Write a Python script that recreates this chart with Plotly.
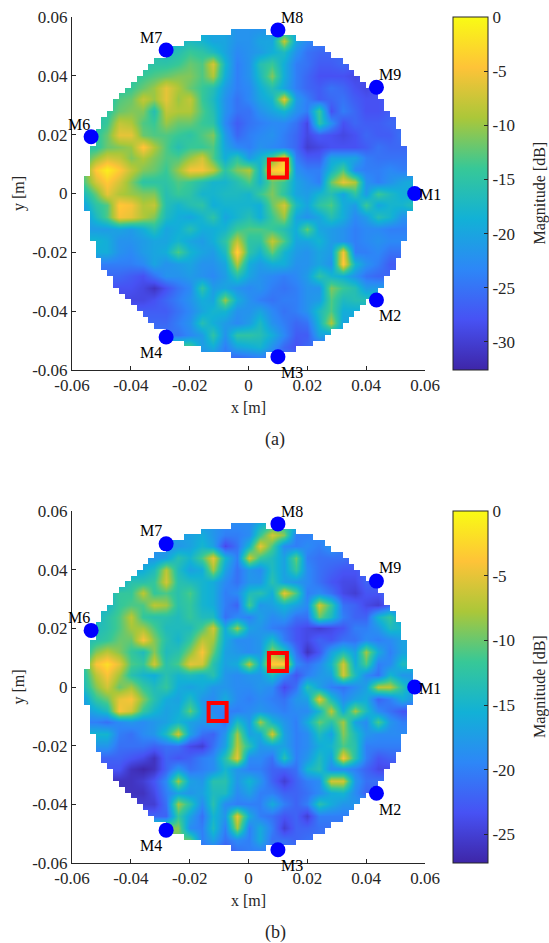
import plotly.graph_objects as go
import numpy as np

x_grid = [round(-0.056 + 0.004 * i, 3) for i in range(29)]
y_grid = [round(0.056 - 0.004 * j, 3) for j in range(29)]

start_a = [11,8,6,5,4,3,2,2,1,1,0,0,0,0,0,0,0,1,1,2,3,3,4,5,7,7,8,9,11]
rows_a = [
[-20,-20,-22,-22,-22,-21,-19],
[-18,-17,-18,-20,-20,-22,-22,-20,-20,-8,-20,-23,-24],
[-16,-17,-16,-14,-15,-17,-20,-23,-22,-21,-19,-17,-22,-25,-26,-26,-26],
[-16,-15,-15,-14,-12,-13,-7,-18,-24,-22,-16,-14,-19,-24,-25,-27,-27,-26,-27],
[-15,-14,-13,-12,-11,-11,-13,-9,-19,-24,-22,-17,-11,-19,-24,-26,-28,-28,-28,-29,-28],
[-15,-14,-12,-10,-6,-9,-12,-14,-16,-21,-24,-23,-19,-16,-20,-24,-26,-27,-25,-26,-28,-29,-28],
[-16,-13,-12,-8,-10,-6,-10,-8,-14,-17,-22,-25,-23,-20,-18,-6,-21,-24,-27,-26,-25,-27,-28,-28,-27],
[-15,-12,-11,-11,-16,-8,-9,-9,-13,-16,-22,-25,-25,-22,-20,-18,-22,-24,-14,-28,-24,-26,-28,-28,-27],
[-16,-14,-8,-9,-13,-14,-10,-12,-12,-14,-15,-23,-27,-25,-24,-23,-23,-25,-29,-15,-22,-28,-26,-27,-27,-26,-26],
[-15,-12,-6,-6,-12,-13,-13,-14,-15,-13,-11,-21,-26,-24,-23,-22,-24,-26,-29,-27,-28,-29,-28,-26,-27,-27,-25],
[-15,-15,-12,-11,-10,-4,-9,-13,-16,-14,-14,-13,-20,-23,-24,-22,-23,-24,-26,-30,-29,-28,-28,-28,-27,-25,-26,-26],
[-14,-10,-7,-8,-11,-9,-11,-13,-13,-10,-7,-13,-19,-15,-21,-18,-13,-4,-24,-27,-27,-20,-20,-20,-24,-25,-25,-25],
[-12,-4,-1,-4,-8,-11,-12,-14,-10,-5,-5,-8,-15,-11,-9,-18,-4,-2,-22,-24,-24,-18,-13,-23,-24,-24,-23,-24],
[-13,-7,-4,-7,-11,-15,-15,-15,-13,-14,-16,-18,-18,-16,-13,-18,-12,-14,-20,-22,-24,-12,-6,-9,-22,-24,-22,-20,-19],
[-17,-12,-6,-9,-10,-11,-11,-16,-14,-15,-18,-18,-17,-17,-18,-14,-11,-15,-20,-21,-18,-16,-20,-15,-21,-14,-17,-19,-20],
[-20,-15,-13,-4,-5,-9,-8,-16,-18,-16,-15,-19,-18,-18,-18,-19,-12,-7,-17,-20,-15,-13,-19,-21,-14,-20,-18,-18,-16],
[-22,-17,-13,-5,-6,-9,-11,-17,-19,-20,-18,-15,-20,-18,-16,-19,-14,-10,-20,-22,-20,-16,-19,-23,-21,-16,-18,-22],
[-21,-21,-20,-21,-19,-16,-20,-19,-16,-19,-19,-18,-14,-13,-13,-14,-16,-19,-12,-20,-21,-22,-24,-23,-23,-24],
[-18,-19,-22,-22,-21,-20,-20,-18,-20,-21,-19,-15,-8,-15,-15,-8,-13,-20,-20,-18,-21,-22,-24,-23,-22,-23],
[-19,-22,-23,-21,-20,-19,-13,-18,-20,-21,-17,-3,-15,-18,-12,-18,-21,-22,-20,-21,-5,-24,-24,-23,-25],
[-24,-24,-23,-20,-22,-21,-20,-22,-22,-20,-9,-19,-21,-19,-19,-22,-22,-20,-22,-4,-18,-22,-24,-27],
[-26,-27,-28,-25,-22,-22,-21,-22,-23,-21,-16,-20,-22,-23,-24,-23,-21,-15,-18,-19,-22,-25,-26],
[-28,-29,-31,-28,-25,-23,-15,-21,-20,-22,-23,-22,-24,-25,-24,-22,-22,-11,-14,-16,-21],
[-29,-28,-26,-24,-22,-19,-20,-10,-19,-22,-24,-25,-24,-24,-22,-21,-13,-17,-16],
[-27,-25,-23,-20,-18,-18,-22,-22,-20,-23,-25,-24,-22,-17,-13,-19],
[-26,-24,-22,-16,-19,-21,-23,-21,-17,-22,-24,-26,-25,-18,-9,-20],
[-25,-23,-21,-15,-22,-15,-15,-16,-19,-23,-27,-27,-20,-21],
[-13,-21,-19,-24,-20,-19,-18,-22,-26,-28,-26],
[-23,-25,-26,-25,-24,-25,-25],
]

start_b = [11,8,7,5,4,3,2,2,1,1,0,0,0,0,0,0,0,1,1,2,3,3,4,5,6,7,8,9,11]
rows_b = [
[-18,-19,-19,-19,-16,-14,-14],
[-17,-17,-16,-18,-20,-20,-19,-12,-6,-9,-20,-20,-19],
[-19,-18,-17,-15,-17,-24,-21,-15,-5,-11,-19,-20,-19,-20,-18,-20],
[-18,-18,-17,-13,-15,-11,-5,-15,-20,-6,-12,-14,-17,-10,-20,-21,-21,-21,-22],
[-17,-16,-14,-7,-14,-17,-16,-8,-17,-21,-18,-19,-14,-17,-12,-19,-21,-22,-23,-23,-22],
[-16,-13,-13,-12,-6,-13,-14,-15,-16,-19,-21,-18,-18,-13,-17,-18,-19,-21,-23,-24,-24,-22,-22],
[-15,-12,-12,-7,-12,-11,-13,-11,-15,-16,-20,-19,-14,-13,-16,-5,-11,-20,-19,-21,-24,-25,-23,-23,-21],
[-15,-12,-11,-11,-7,-8,-13,-12,-15,-16,-20,-22,-11,-18,-17,-15,-17,-19,-6,-12,-21,-22,-24,-25,-22],
[-15,-13,-11,-7,-12,-13,-13,-14,-12,-14,-14,-21,-19,-20,-17,-19,-18,-21,-21,-10,-14,-20,-22,-22,-15,-12,-18],
[-14,-13,-11,-8,-8,-11,-14,-14,-14,-11,-6,-16,-8,-17,-18,-20,-21,-23,-24,-25,-24,-23,-20,-20,-18,-14,-15],
[-14,-13,-12,-10,-10,-4,-9,-13,-15,-12,-7,-8,-16,-19,-19,-18,-14,-20,-23,-24,-22,-23,-21,-21,-19,-20,-19,-17],
[-14,-9,-7,-9,-12,-14,-9,-14,-13,-9,-4,-10,-17,-18,-19,-18,-8,-13,-21,-26,-23,-17,-14,-17,-8,-16,-20,-17],
[-12,-4,-2,-5,-11,-12,-6,-13,-11,-5,-6,-13,-17,-16,-7,-16,-3,-3,-19,-21,-19,-15,-6,-16,-11,-20,-19,-14],
[-13,-7,-4,-8,-13,-15,-16,-13,-15,-14,-15,-13,-18,-19,-18,-18,-14,-19,-23,-20,-18,-17,-6,-14,-19,-21,-15,-18],
[-14,-9,-6,-10,-8,-12,-14,-12,-16,-17,-16,-18,-18,-19,-19,-18,-19,-24,-21,-13,-17,-20,-21,-19,-17,-7,-7,-13,-18],
[-17,-12,-10,-5,-4,-9,-13,-16,-17,-14,-18,-19,-16,-19,-20,-19,-20,-21,-18,-17,-5,-14,-19,-17,-16,-22,-20,-16,-18],
[-18,-16,-14,-4,-6,-12,-15,-17,-16,-10,-17,-19,-20,-20,-19,-18,-19,-20,-19,-19,-15,-7,-16,-8,-14,-19,-21,-23],
[-20,-21,-19,-18,-19,-18,-17,-15,-17,-18,-17,-21,-14,-18,-8,-15,-18,-20,-16,-10,-13,-8,-17,-19,-11,-18,-20],
[-15,-15,-20,-21,-19,-18,-14,-6,-17,-21,-22,-18,-8,-17,-16,-6,-17,-20,-19,-14,-17,-9,-14,-18,-19,-19],
[-18,-21,-21,-21,-22,-21,-21,-24,-25,-21,-17,-7,-13,-18,-17,-17,-20,-19,-16,-15,-11,-13,-20,-20,-20],
[-22,-23,-24,-26,-22,-23,-22,-20,-19,-13,-5,-19,-19,-21,-13,-20,-18,-14,-17,-4,-13,-20,-23,-22],
[-23,-26,-27,-26,-22,-18,-21,-20,-19,-15,-18,-20,-20,-22,-22,-21,-15,-13,-19,-19,-20,-22,-24],
[-26,-25,-23,-19,-8,-17,-18,-13,-13,-18,-15,-18,-22,-25,-22,-20,-19,-6,-6,-18,-21],
[-26,-24,-20,-17,-18,-17,-14,-14,-19,-17,-20,-20,-22,-22,-21,-19,-16,-15,-19,-22],
[-25,-21,-8,-13,-19,-13,-19,-20,-20,-20,-16,-20,-22,-20,-13,-16,-18],
[-22,-12,-17,-21,-15,-18,-5,-16,-20,-21,-23,-22,-25,-20,-20],
[-9,-19,-20,-14,-20,-8,-20,-16,-20,-25,-22,-22,-21],
[-10,-20,-17,-21,-19,-20,-16,-21,-21,-22,-21],
[-21,-23,-21,-20,-20,-20,-21],
]

mic_names = ["M1", "M2", "M3", "M4", "M6", "M7", "M8", "M9"]
mic_x = [0.0565, 0.0435, 0.0100, -0.0280, -0.0535, -0.0280, 0.0100, 0.0435]
mic_y = [0.0000, -0.0362, -0.0555, -0.0488, 0.0193, 0.0488, 0.0556, 0.0361]
label_x = [0.0617, 0.0481, 0.0148, -0.0331, -0.0576, -0.0331, 0.0148, 0.0481]
label_y = [-0.0005, -0.0416, -0.0607, -0.0542, 0.0236, 0.0532, 0.0600, 0.0406]

src_a_x = [0.0100]
src_a_y = [0.0085]
src_b_x = [0.0100, -0.0105]
src_b_y = [0.0085, -0.0085]

zmin_a, zmin_b = -32.6, -27.2
ticks_a = [0, -5, -10, -15, -20, -25, -30]
ticks_b = [0, -5, -10, -15, -20, -25]
xy_ticks = [-0.06, -0.04, -0.02, 0, 0.02, 0.04, 0.06]
xy_text = ["-0.06", "-0.04", "-0.02", "0", "0.02", "0.04", "0.06"]

parula = [[0, "#3e26a8"], [1/7, "#4752f4"], [2/7, "#2d87f7"], [3/7, "#12b1d6"],
          [4/7, "#37c897"], [5/7, "#abc739"], [6/7, "#fec338"], [1, "#f9fb14"]]

W, H = 549, 943
LEFT, RIGHT = 72, 425
SERIF = "Liberation Serif"
INK = "#262626"


def full(rows, starts):
    out = []
    for r, s in zip(rows, starts):
        out.append([r[0]] * s + r + [r[-1]] * (29 - s - len(r)))
    return out


# white surround that gives the disc its stepped edge
cell = np.arange(-0.059, 0.0591, 0.002)
cx, cy = np.meshgrid(cell, cell)
outside = (np.abs(cx) + 0.001) ** 2 + (np.abs(cy) + 0.001) ** 2 > 0.0565 ** 2
mask = np.where(outside, 1.0, np.nan)

fig = go.Figure()
centered = dict(xref="paper", yref="paper", showarrow=False, xanchor="center", yanchor="middle")
notes = [
    dict(centered, text="(a)", x=275 / W, y=(H - 439) / H, font=dict(family=SERIF, size=18, color=INK)),
    dict(centered, text="(b)", x=275 / W, y=(H - 932) / H, font=dict(family=SERIF, size=18, color=INK)),
]


def panel(z, zmin, ticks, top, bottom, xa, ya, src_x, src_y):
    xref = "x" if xa == 1 else f"x{xa}"
    yref = "y" if ya == 1 else f"y{ya}"
    fig.add_trace(go.Heatmap(
        x=x_grid, y=y_grid, z=z, zmin=zmin, zmax=0, zsmooth="best", colorscale=parula,
        xaxis=xref, yaxis=yref, hoverinfo="skip",
        colorbar=dict(
            x=453 / W, xanchor="left", thickness=35, thicknessmode="pixels",
            y=(H - bottom) / H, yanchor="bottom", len=(bottom - top) / H, lenmode="fraction",
            xpad=0, ypad=0, outlinecolor=INK, outlinewidth=1,
            tickmode="array", tickvals=ticks, ticktext=[str(t) for t in ticks],
            ticks="inside", ticklen=4, tickcolor=INK,
            tickfont=dict(family=SERIF, size=17, color=INK),
        ),
    ))
    fig.add_trace(go.Heatmap(
        x=cell, y=cell, z=mask, zmin=0, zmax=1, showscale=False, hoverinfo="skip",
        colorscale=[[0, "white"], [1, "white"]], xaxis=xref, yaxis=yref,
    ))
    fig.add_trace(go.Scatter(
        x=mic_x, y=mic_y, mode="markers", xaxis=xref, yaxis=yref, cliponaxis=False,
        marker=dict(size=15, color="#0000ff"), showlegend=False, hoverinfo="skip",
    ))
    fig.add_trace(go.Scatter(
        x=src_x, y=src_y, mode="markers", xaxis=xref, yaxis=yref, showlegend=False, hoverinfo="skip",
        marker=dict(symbol="square-open", size=18, color="#ff0000", line=dict(width=4, color="#ff0000")),
    ))
    for name, lx, ly in zip(mic_names, label_x, label_y):
        px = LEFT + (lx + 0.06) / 0.12 * (RIGHT - LEFT)
        py = bottom - (ly + 0.06) / 0.12 * (bottom - top)
        notes.append(dict(centered, text=name, x=px / W, y=(H - py) / H,
                          font=dict(family=SERIF, size=16, color="black")))
    notes.append(dict(centered, text="Magnitude [dB]", x=540 / W, y=(H - (top + bottom) / 2) / H,
                      textangle=-90, font=dict(family=SERIF, size=16, color=INK)))
    axis = dict(
        range=[-0.06, 0.06], tickmode="array", tickvals=xy_ticks, ticktext=xy_text,
        ticks="inside", ticklen=4, tickcolor=INK, showgrid=False, zeroline=False,
        showline=True, linecolor=INK, linewidth=1, layer="above traces",
        tickfont=dict(family=SERIF, size=17, color=INK),
    )
    xname = "xaxis" if xa == 1 else f"xaxis{xa}"
    yname = "yaxis" if ya == 1 else f"yaxis{ya}"
    fig.update_layout(**{
        xname: dict(axis, domain=[LEFT / W, RIGHT / W], anchor=yref,
                    title=dict(text="x [m]", standoff=7, font=dict(family=SERIF, size=16, color=INK))),
        yname: dict(axis, domain=[(H - bottom) / H, (H - top) / H], anchor=xref,
                    title=dict(text="y [m]", standoff=3, font=dict(family=SERIF, size=16, color=INK))),
    })


panel(full(rows_a, start_a), zmin_a, ticks_a, 17, 370, 1, 1, src_a_x, src_a_y)
panel(full(rows_b, start_b), zmin_b, ticks_b, 511, 863, 2, 2, src_b_x, src_b_y)

fig.update_layout(
    width=W, height=H, margin=dict(l=0, r=0, t=0, b=0, autoexpand=False),
    paper_bgcolor="white", plot_bgcolor="white", showlegend=False,
    annotations=notes,
)

fig.write_html("out.html", config={"displayModeBar": False},
               post_script="document.body.style.margin='0';")
